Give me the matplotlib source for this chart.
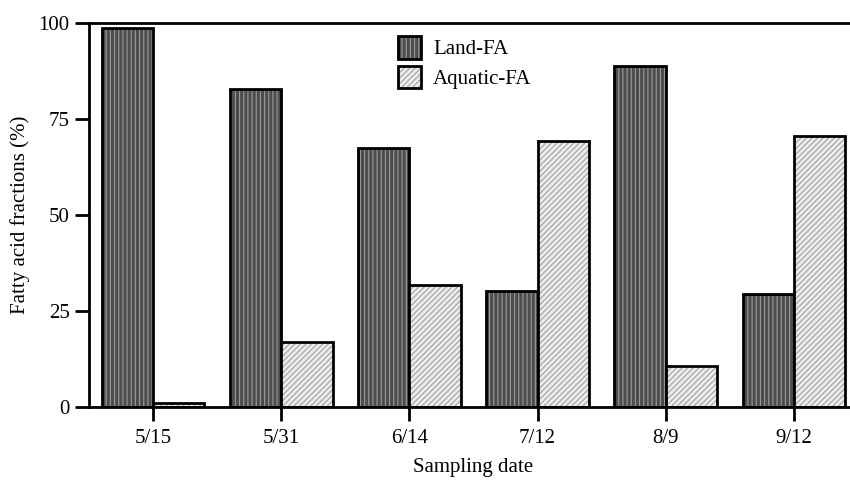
import matplotlib.pyplot as plt
import numpy as np

plt.rcParams['font.family'] = ['Liberation Serif', 'DejaVu Serif']
plt.rcParams['hatch.linewidth'] = 0.8

dates = ["5/15", "5/31", "6/14", "7/12", "8/9", "9/12"]
land_fa = [98.7, 82.8, 67.4, 30.2, 88.8, 29.3]
aquatic_fa = [1.0, 16.9, 31.8, 69.3, 10.8, 70.6]

x = np.arange(len(dates))
w = 0.4

fig = plt.figure(figsize=(8.5, 4.8), dpi=100)
ax = fig.add_axes([89 / 850, 73 / 480, 769 / 850, 384 / 480])

# filled bars with hatch, then black outlines on top
land_fill = ax.bar(x - w / 2, land_fa, w, facecolor="#4d4d4d", edgecolor="#9a9a9a",
                   hatch="||||", linewidth=0)
land_edge = ax.bar(x - w / 2, land_fa, w, fill=False, edgecolor="black", linewidth=2)
aq_fill = ax.bar(x + w / 2, aquatic_fa, w, facecolor="#ececec", edgecolor="#a0a0a0",
                 hatch="//////", linewidth=0)
aq_edge = ax.bar(x + w / 2, aquatic_fa, w, fill=False, edgecolor="black", linewidth=2)

ax.set_xlim(-0.5, len(dates) - 0.5)
ax.set_ylim(0, 100)
ax.set_yticks([0, 25, 50, 75, 100])
ax.set_xticks(x)
ax.set_xticklabels(dates)
ax.tick_params(axis="both", direction="out", length=10, width=2, labelsize=15)
ax.tick_params(axis="x", pad=6)
ax.tick_params(axis="y", pad=4)

for s in ax.spines.values():
    s.set_linewidth(2)

ax.set_xlabel("Sampling date", fontsize=15, labelpad=7)
ax.set_ylabel("Fatty acid fractions (%)", fontsize=15, labelpad=6)

ax.legend([(land_fill[0], land_edge[0]), (aq_fill[0], aq_edge[0])],
          ["Land-FA", "Aquatic-FA"], loc="upper left",
          bbox_to_anchor=(0.377, 1.015), frameon=False, fontsize=15,
          handlelength=1.1, handleheight=1.3, labelspacing=0.3, handletextpad=0.6)

plt.savefig("out.png", dpi=100)
